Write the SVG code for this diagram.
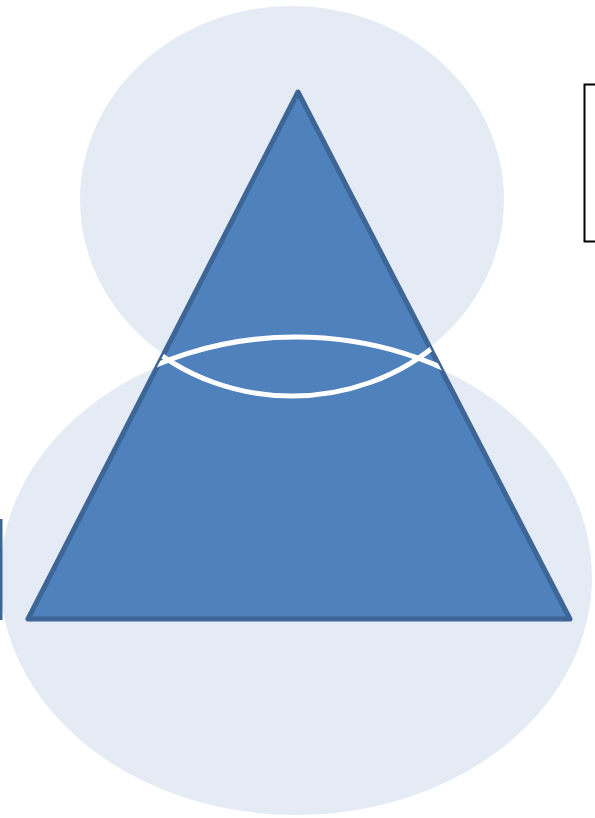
<svg xmlns="http://www.w3.org/2000/svg" width="595" height="818" viewBox="0 0 595 818">
<style>
.bg{fill:#E4EBF4;stroke:#FFFFFF;stroke-width:4}
.arc{fill:none;stroke:#FFFFFF;stroke-width:5}
.tri{fill:#4F81BD;stroke:#3D6596;stroke-width:5;stroke-linejoin:round}
</style>
<defs>
<clipPath id="triClip"><polygon points="298,92 28,619 570,619"/></clipPath>
</defs>
<rect width="595" height="818" fill="#FFFFFF"/>
<g id="bottom-circle"><ellipse class="bg" cx="296" cy="577" rx="298" ry="240"/></g>
<g id="top-circle"><ellipse class="bg" cx="292" cy="200" rx="214" ry="196"/></g>
<g id="triangle"><polygon class="tri" points="298,92 28,619 570,619"/></g>
<g id="overlap-arcs" clip-path="url(#triClip)">
<ellipse class="arc" cx="296" cy="577" rx="298" ry="240"/>
<ellipse class="arc" cx="292" cy="200" rx="214" ry="196"/>
</g>
<g id="left-edge"><line x1="1" y1="519" x2="1" y2="620" stroke="#3D6596" stroke-width="3"/></g>
<g id="right-box"><rect x="584.5" y="84.5" width="30" height="157" fill="#FFFFFF" stroke="#000000" stroke-width="2"/></g>
</svg>
